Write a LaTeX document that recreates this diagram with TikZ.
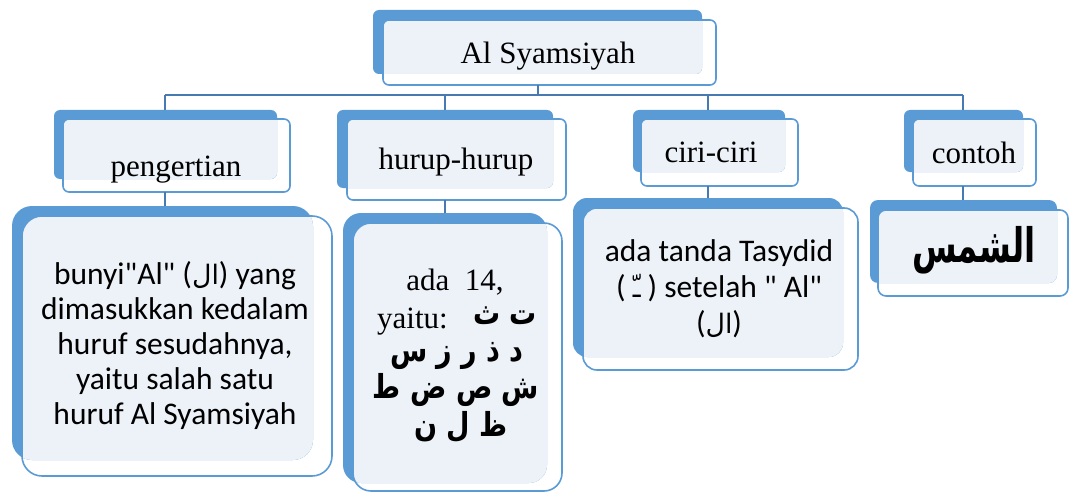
\documentclass[tikz,border=0pt]{standalone}
\usepackage{fontspec}
\usepackage{graphicx}
\setmainfont{Liberation Serif}
\newfontfamily\calfont{Carlito}
\newfontfamily\arabicsmall[Script=Arabic,Scale=0.85]{DejaVu Sans}
\newfontfamily\arabicbig[Script=Arabic]{DejaVu Sans}
\TeXXeTstate=1
\usetikzlibrary{fit}
\definecolor{backblue}{RGB}{91,155,213}
\definecolor{lightfill}{RGB}{237,242,249}
\definecolor{connblue}{RGB}{72,122,178}
\tikzset{
 backbox/.style={fill=backblue, draw=none, inner sep=0pt, outer sep=0pt},
 frontbox/.style={draw=backblue, line width=1.6pt, inner sep=0pt, outer sep=0pt},
 conn/.style={draw=connblue, line width=2.4pt},
 serift/.style={font=\fontsize{31}{36}\selectfont, inner sep=0pt},
 calt/.style={font=\calfont\fontsize{31.5}{35}\selectfont, inner sep=0pt, align=center},
 arbt/.style={font=\arabicbig\bfseries\fontsize{30}{36}\selectfont, inner sep=0pt},
}
\newcommand{\smbox}[6]{%
 \node[backbox, rounded corners=#6, fit={#2 #3}] (#1b) {};
 \begin{scope}
  \clip[rounded corners=#6] #2 rectangle #3;
  \fill[lightfill, rounded corners=#6] #4 rectangle #5;
 \end{scope}
 \node[frontbox, rounded corners=#6, fit={#4 #5}] (#1) {};
}
\newcommand{\arline}[1]{\scalebox{0.9}[1.1]{\beginR #1\endR}}
\begin{document}
\begin{tikzpicture}[x=1pt,y=-1pt]
\useasboundingbox (0,0) rectangle (1070,492);
% boxes
\smbox{top}{(373,10)}{(702,74)}{(383,20)}{(716,85)}{6pt}
\smbox{peng}{(54,110)}{(277,179)}{(63,119)}{(290,192)}{6pt}
\smbox{hur}{(337,110)}{(553,188)}{(347,119)}{(566,200)}{6pt}
\smbox{ciri}{(633,110)}{(785,172)}{(641,119)}{(798,186)}{6pt}
\smbox{cont}{(904,110)}{(1023,172)}{(913,119)}{(1036,186)}{6pt}
\smbox{bun}{(12,206)}{(313,460)}{(22,216)}{(332,476)}{20pt}
\smbox{hbody}{(343,213)}{(547,483)}{(353,223)}{(562,491)}{18pt}
\smbox{cbody}{(573,198)}{(843,357)}{(583,208)}{(858,370)}{14pt}
\smbox{kbody}{(870,200)}{(1057,283)}{(878,210)}{(1068,296)}{8pt}
% connectors
\coordinate (stem) at (538,95);
\coordinate (j1) at (165,95);
\coordinate (j2) at (445,95);
\coordinate (j3) at (708,95);
\coordinate (j4) at (963,95);
\draw[conn] (top.south -| stem) -- (stem);
\draw[conn] (j1) -- (j4);
\draw[conn] (j1) -- (j1 |- pengb.north);
\draw[conn] (j2) -- (j2 |- hurb.north);
\draw[conn] (j3) -- (j3 |- cirib.north);
\draw[conn] (j4) -- (j4 |- contb.north);
\draw[conn] (peng.south -| j1) -- (bunb.north -| j1);
\draw[conn] (hur.south -| j2) -- (hbodyb.north -| j2);
\draw[conn] (ciri.south -| j3) -- (cbodyb.north -| j3);
\draw[conn] (cont.south -| j4) -- (kbodyb.north -| j4);
% texts
\node[serift, anchor=base] (t0) at (548,64) {Al Syamsiyah};
\node[serift, anchor=base] (t1) at (176,176) {pengertian};
\node[serift, anchor=base] (t2) at (456,169) {hurup-hurup};
\node[serift, anchor=base] (t3) at (711,162) {ciri-ciri};
\node[serift, anchor=base] (t4) at (974,163) {contoh};
\node[calt] (bunT) at (175,346) {bunyi"Al" ({\arabicsmall\beginR ال\endR}) yang\\dimasukkan kedalam\\huruf sesudahnya,\\yaitu salah satu\\huruf Al Syamsiyah};
\node[serift, anchor=base] (h1) at (455,290) {ada\ \ 14,};
\node[serift, anchor=base west] (h2) at (377,328) {yaitu:};
\node[arbt, anchor=base east] (h2a) at (537,324) {\arline{ت ث}};
\node[arbt, anchor=base] (h3) at (457,361) {\arline{د ذ ر ز س}};
\node[arbt, anchor=base] (h4) at (456,398) {\arline{ش ص ض ط}};
\node[arbt, anchor=base] (h5) at (461,436) {\arline{ظ ل ن}};
\node[calt, font=\calfont\fontsize{31.5}{36}\selectfont] (cirT) at (719,289) {ada tanda Tasydid\\( {\arabicsmall\beginR ـّ\endR} ) setelah " Al"\\({\arabicsmall\beginR ال\endR})};
\node[arbt, anchor=base] (kT) at (974,262) {\scalebox{0.85}[1.25]{\fontsize{38}{40}\selectfont\beginR الشمس\endR}};
\end{tikzpicture}
\end{document}
